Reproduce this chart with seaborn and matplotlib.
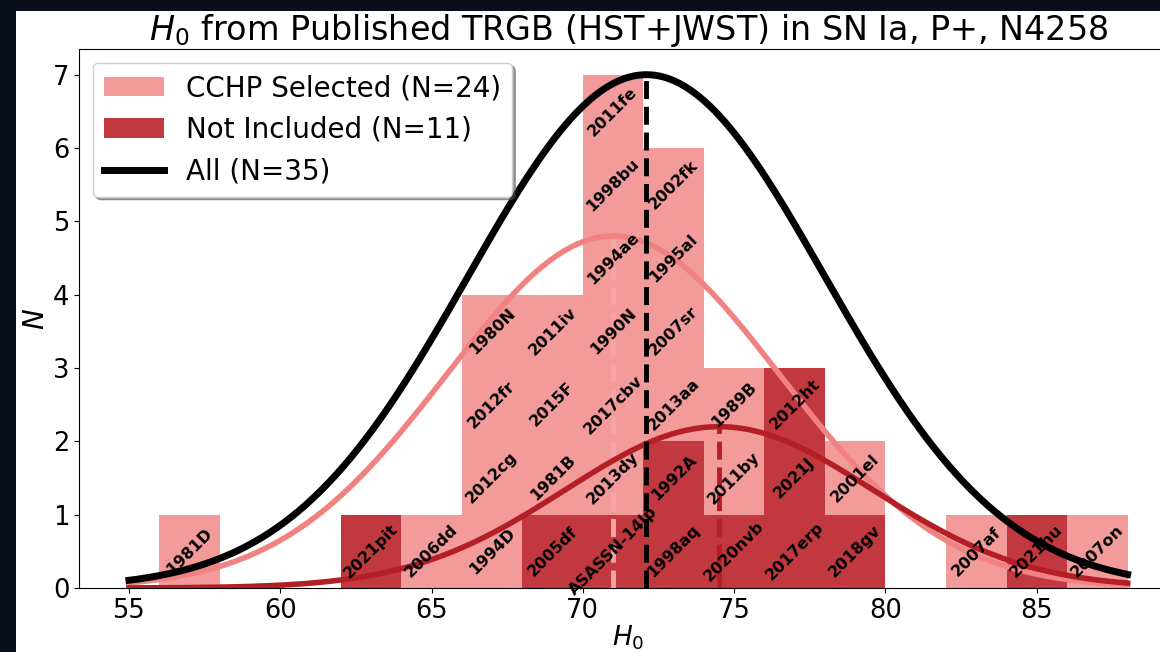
import numpy as np
import pandas as pd
import matplotlib
matplotlib.use("Agg")
import matplotlib.pyplot as plt
import seaborn as sns
from matplotlib.patches import Patch, Rectangle
from matplotlib.lines import Line2D

# ---------------- data ----------------
cchp_names = ["1981D", "2006dd", "1994D", "2012cg", "2012fr", "1980N",
              "1981B", "2015F", "2011iv", "2013dy", "2017cbv", "1990N",
              "1994ae", "1998bu", "2011fe", "2013aa", "2007sr", "1995al",
              "2002fk", "2011by", "1989B", "2001el", "2007af", "2007on"]
cchp_h0 = [57, 65, 67, 67, 67, 67, 69, 69, 69, 71, 71, 71,
           71, 71, 71, 73, 73, 73, 73, 75, 75, 79, 83, 87]

not_names = ["2021pit", "2005df", "ASASSN-14lp", "1998aq", "1992A",
             "2020nvb", "2017erp", "2021J", "2012ht", "2018gv", "2021hu"]
not_h0 = [63, 69, 71, 73, 73, 75, 77, 77, 77, 79, 85]

bin_edges = list(range(56, 90, 2))

# Gaussian fit parameters: (mean, sigma, peak)
fit_all = (72.1, 5.9, 7.0)
fit_cchp = (71.0, 5.5, 4.8)
fit_not = (74.5, 5.1, 2.2)
curve_range = (55, 88)

xticks = [55, 60, 65, 70, 75, 80, 85]
yticks = [0, 1, 2, 3, 4, 5, 6, 7]

# ---------------- style ----------------
pink_bar = "#f39b9b"
dark_bar = "#c1393e"
pink_line = "#f08282"
pink_dash = "#f5a5a5"
dark_line = "#b41f25"

fig = plt.figure(figsize=(11.6, 6.52), dpi=100)
fig.patch.set_facecolor("#0a0d1a")
fig.patches.append(Rectangle((16 / 1160, 0), 1, (652 - 11) / 652,
                             transform=fig.transFigure, facecolor="white",
                             edgecolor="none", zorder=-10))

ax = fig.add_axes([79 / 1160, 64 / 652, 1098.5 / 1160, (588 - 49) / 652])

df = pd.DataFrame({
    "H0": cchp_h0 + not_h0,
    "group": ["CCHP Selected"] * len(cchp_h0) + ["Not Included"] * len(not_h0),
})
sns.histplot(data=df, x="H0", hue="group",
             hue_order=["CCHP Selected", "Not Included"],
             multiple="stack", bins=bin_edges,
             palette={"CCHP Selected": pink_bar, "Not Included": dark_bar},
             alpha=1, edgecolor="none", linewidth=0, legend=False, ax=ax)

# labels: Not Included at bottom of each bin, CCHP stacked above
edges = np.array(bin_edges)
def bin_index(v):
    return int(np.searchsorted(edges, v, side="right") - 1)

counts = {}
label_rows = []
for name, v in zip(not_names, not_h0):
    b = bin_index(v)
    k = counts.get(b, 0)
    label_rows.append((name, (edges[b] + edges[b + 1]) / 2, k + 0.5))
    counts[b] = k + 1
for name, v in zip(cchp_names, cchp_h0):
    b = bin_index(v)
    k = counts.get(b, 0)
    label_rows.append((name, (edges[b] + edges[b + 1]) / 2, k + 0.5))
    counts[b] = k + 1

for name, xc, yc in label_rows:
    ax.text(xc, yc, name, rotation=45, ha="center", va="center",
            fontsize=11.5, fontweight="bold", color="black", zorder=6)

# Gaussian curves
xs = np.linspace(curve_range[0], curve_range[1], 400)
def gauss(p):
    mu, s, a = p
    return a * np.exp(-(xs - mu) ** 2 / (2 * s ** 2))

curves = pd.DataFrame({"x": xs, "all": gauss(fit_all),
                       "cchp": gauss(fit_cchp), "not": gauss(fit_not)})
sns.lineplot(data=curves, x="x", y="cchp", color=pink_line, lw=4, ax=ax,
             zorder=4, legend=False)
sns.lineplot(data=curves, x="x", y="not", color=dark_line, lw=4, ax=ax,
             zorder=4, legend=False)
sns.lineplot(data=curves, x="x", y="all", color="black", lw=5, ax=ax,
             zorder=5, legend=False)

# mean lines
ax.plot([fit_cchp[0]] * 2, [0, fit_cchp[2]], ls="--", color=pink_dash,
        lw=3.5, zorder=3)
ax.plot([fit_not[0]] * 2, [0, fit_not[2]], ls="--", color=dark_line,
        lw=3.5, zorder=3)
ax.plot([fit_all[0]] * 2, [0, fit_all[2]], ls="--", color="black",
        lw=3.5, zorder=5)

ax.set_xlim(53.35, 89.65)
ax.set_ylim(0, 7.35)
ax.set_xticks(xticks)
ax.set_yticks(yticks)
ax.tick_params(labelsize=18.5)
ax.set_xlabel(r"$H_0$", fontsize=19, labelpad=0)
ax.set_ylabel(r"$N$", fontsize=20, labelpad=2)
ax.set_title(r"$H_0$ from Published TRGB (HST+JWST) in SN Ia, P+, N4258",
             fontsize=24, pad=4)

handles = [Patch(facecolor=pink_bar, label="CCHP Selected (N=24)"),
           Patch(facecolor=dark_bar, label="Not Included (N=11)"),
           Line2D([0], [0], color="black", lw=5, label="All (N=35)")]
ax.legend(handles=handles, loc="upper left", fontsize=20, shadow=True,
          handlelength=2.16)

fig.savefig("out.png", dpi=100, facecolor=fig.get_facecolor())
